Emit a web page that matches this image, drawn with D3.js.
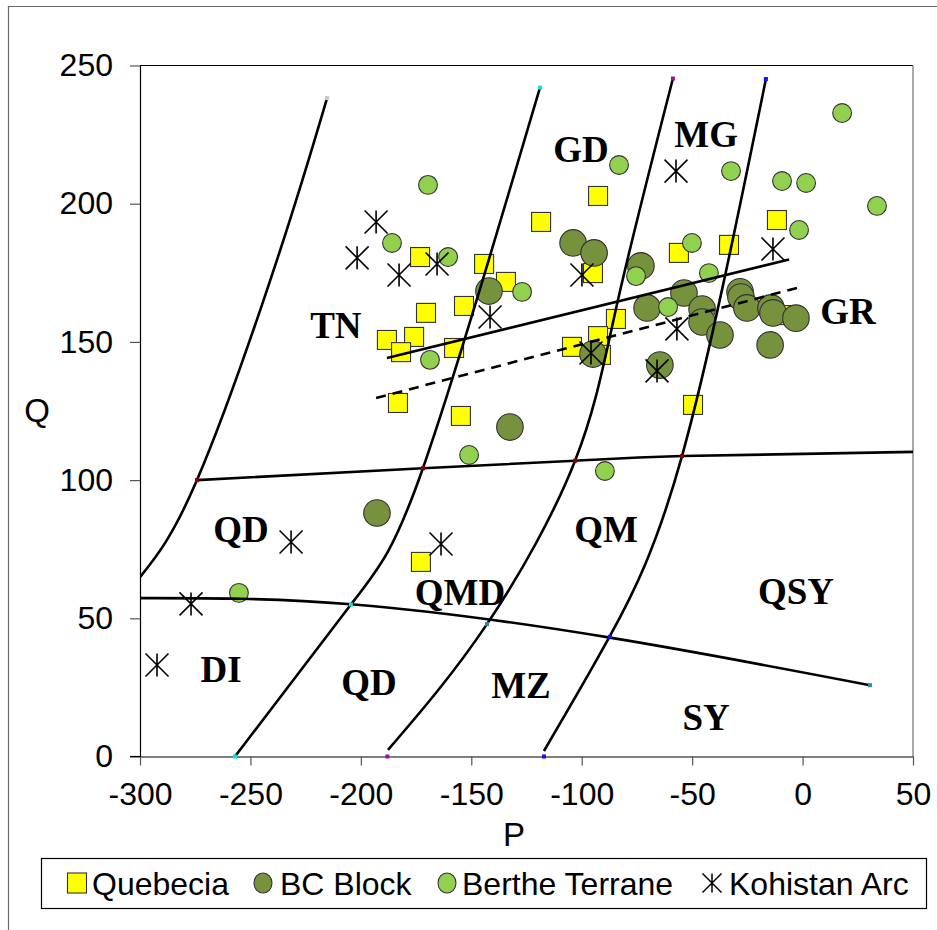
<!DOCTYPE html>
<html>
<head>
<meta charset="utf-8">
<script src="https://cdn.jsdelivr.net/npm/d3@7"></script>
<style>
  body { margin: 0; background: #fff; }
  svg { display: block; }
</style>
</head>
<body>
<div id="chart"></div>
<script>
// sample points [P, Q]
const quebecia = [
  [-173.2, 180.7], [-144.2, 178.2], [-134.3, 171.7], [-153.3, 163.0], [-170.5, 160.5],
  [-175.9, 151.8], [-188.2, 150.7], [-157.8, 147.8], [-181.8, 146.3], [-183.2, 127.9],
  [-154.7, 123.2], [-172.8, 70.4], [-92.6, 202.8], [-118.4, 193.4], [-94.9, 174.9],
  [-56.0, 182.2], [-84.5, 158.3], [-92.6, 152.1], [-104.4, 148.2], [-91.3, 145.3],
  [-49.6, 127.2], [-33.3, 185.1], [-11.6, 194.1], [-8.9, 159.7]
];
const bcBlock = [
  [-142.0, 168.4], [-103.9, 185.8], [-94.4, 182.2], [-73.2, 177.5], [-53.7, 167.7],
  [-70.4, 162.3], [-45.5, 161.9], [-45.5, 157.2], [-37.4, 152.5], [-28.3, 168.1],
  [-27.9, 166.2], [-25.2, 162.3], [-14.3, 162.3], [-13.4, 160.5], [-3.0, 158.6],
  [-14.7, 148.9], [-94.9, 145.6], [-64.6, 141.6], [-132.5, 119.2], [-192.7, 88.1]
];
const bertheTerrane = [
  [-169.6, 206.8], [-185.9, 185.8], [-160.5, 180.7], [-127.0, 168.1], [-168.7, 143.5],
  [-151.0, 109.1], [-255.2, 59.2], [-83.1, 214.0], [-50.1, 185.8], [-75.4, 173.8],
  [-42.4, 174.9], [-60.9, 162.6], [-32.4, 211.8], [-9.3, 208.2], [1.6, 207.5],
  [17.9, 232.8], [33.7, 199.2], [-1.6, 190.5], [-89.5, 103.3]
];
const kohistanArc = [
  [-193.1, 193.4], [-201.7, 180.4], [-182.7, 174.2], [-165.5, 178.2], [-141.5, 159.0],
  [-57.3, 211.8], [-13.4, 183.6], [-99.9, 174.2], [-56.9, 154.7], [-95.8, 146.0],
  [-65.9, 139.5], [-231.6, 77.6], [-163.7, 76.9], [-276.9, 55.2], [-292.3, 33.1]
];

// field boundaries of the P-Q diagram
const boundaryA = [[-300, 64.9], [-274.2, 100], [-238, 179.6], [-215.3, 238.2]];
const boundaryB = [[-257, 0], [-204.5, 55], [-171.9, 104.3], [-118.9, 242]];
const boundaryC = [[-187.7, 2.4], [-142.9, 47.9], [-103, 107], [-83.6, 165.1], [-58.7, 245.3]];
const boundaryD = [[-117.1, 2], [-87.2, 43.6], [-54.6, 108.7], [-16.6, 245.1]];
const boundaryH1 = [[-274.2, 100], [-171.9, 104.3], [-103, 107], [-54.6, 108.7], [50, 110.2]];
const boundaryH2 = [[-300, 57.3], [-204.5, 55.1], [-87.2, 43.0], [30.5, 25.8]];
// trend lines
const trendSolid = [[-188.2, 144.2], [-6.1, 179.8]];
const trendDashed = [[-193.1, 129.7], [-2.5, 169.5]];

// small node markers of the boundary series
const nodeMarks = [
  [-215.3, 238.2, "#c8c8c8"],
  [-257, 0, "#00e5ee"], [-204.5, 55, "#00e5ee"], [-118.9, 242, "#00e5ee"],
  [-188, 0, "#a0109a"], [-142.9, 47.9, "#2a8a9a"], [-58.7, 245.3, "#a0109a"],
  [-117.1, 0, "#1010ff"], [-87.2, 43.3, "#1010ff"], [-16.6, 245.1, "#1010ff"],
  [-274.2, 100, "#8b0000"], [-171.9, 104.3, "#8b0000"], [-103, 107, "#8b0000"], [-54.6, 108.7, "#8b0000"],
  [30.5, 25.8, "#2a8a9a"]
];

const fieldLabels = [
  ["TN", -211.3, 151.4], ["GD", -100.3, 215.1], ["MG", -43.7, 220.5], ["GR", 20.6, 156.5],
  ["QD", -254.3, 77.6], ["QMD", -155.1, 54.8], ["QM", -89.0, 77.6], ["QSY", -3.0, 55.2],
  ["DI", -263.3, 27.0], ["QD", -196.3, 22.3], ["MZ", -127.5, 21.2], ["SY", -43.7, 9.6]
];

const xTicks = [-300, -250, -200, -150, -100, -50, 0, 50];
const yTicks = [0, 50, 100, 150, 200, 250];

const seriesNames = ["Quebecia", "BC Block", "Berthe Terrane", "Kohistan Arc"];

const W = 937, H = 930;
const sans = '"Liberation Sans", Arial, sans-serif';
const serif = '"Liberation Serif", "Times New Roman", serif';

const svg = d3.select("#chart").append("svg")
  .attr("width", W).attr("height", H);

svg.append("rect").attr("width", W).attr("height", H).attr("fill", "#fff");

// outer chart frame
svg.append("path")
  .attr("d", `M8.5,${H} V6.5 H${W}`)
  .attr("fill", "none").attr("stroke", "#6b6b6b").attr("stroke-width", 1.2);

const x = d3.scaleLinear().domain([-300, 50]).range([140, 913]);
const y = d3.scaleLinear().domain([0, 250]).range([756.5, 65.5]);

// plot area border (top black, right grey)
svg.append("line").attr("x1", 140).attr("x2", 913).attr("y1", 65.5).attr("y2", 65.5)
  .attr("stroke", "#000").attr("stroke-width", 1.2);
svg.append("line").attr("x1", 913).attr("x2", 913).attr("y1", 65.5).attr("y2", 756.5)
  .attr("stroke", "#8c8c8c").attr("stroke-width", 1.5);

// axes (plain hyphen for negatives)
const fmt = d => String(d);
const xAxis = svg.append("g")
  .attr("transform", "translate(0,756.5)")
  .call(d3.axisBottom(x).tickValues(xTicks).tickFormat(fmt)
    .tickSize(9).tickPadding(17).tickSizeOuter(0));
const yAxis = svg.append("g")
  .attr("transform", "translate(140,0)")
  .call(d3.axisLeft(y).tickValues(yTicks).tickFormat(fmt)
    .tickSize(10).tickPadding(17).tickSizeOuter(0));

[xAxis, yAxis].forEach(g => {
  g.select(".domain").attr("stroke", "#000").attr("stroke-width", 1.2);
  g.selectAll(".tick line").attr("stroke", "#555").attr("stroke-width", 1.2);
  g.selectAll(".tick text")
    .attr("font-family", sans).attr("font-size", 32).attr("fill", "#000");
});
// extend x axis line left to meet the y tick
svg.append("line").attr("x1", 130).attr("x2", 140).attr("y1", 756.5).attr("y2", 756.5)
  .attr("stroke", "#000").attr("stroke-width", 1.2);

// axis titles
svg.append("text").attr("x", 514).attr("y", 846).attr("text-anchor", "middle")
  .attr("font-family", sans).attr("font-size", 33).text("P");
svg.append("text").attr("x", 37).attr("y", 422).attr("text-anchor", "middle")
  .attr("font-family", sans).attr("font-size", 33).text("Q");

// clip for curves
svg.append("defs").append("clipPath").attr("id", "plotclip")
  .append("rect").attr("x", 140).attr("y", 60).attr("width", 773).attr("height", 700);

// sample markers
const pts = svg.append("g");

pts.selectAll(".qb").data(quebecia).enter().append("rect")
  .attr("x", d => x(d[0]) - 9.5).attr("y", d => y(d[1]) - 9.5)
  .attr("width", 19).attr("height", 19)
  .attr("fill", "#ffff00").attr("stroke", "#333").attr("stroke-width", 1.1);

pts.selectAll(".bc").data(bcBlock).enter().append("circle")
  .attr("cx", d => x(d[0])).attr("cy", d => y(d[1])).attr("r", 13.3)
  .attr("fill", "#77923c").attr("stroke", "#333").attr("stroke-width", 1.1);

pts.selectAll(".bt").data(bertheTerrane).enter().append("circle")
  .attr("cx", d => x(d[0])).attr("cy", d => y(d[1])).attr("r", 9.4)
  .attr("fill", "#92d050").attr("stroke", "#333").attr("stroke-width", 1.1);

const star = s => `M0,${-s}V${s}M${-s},${-s}L${s},${s}M${s},${-s}L${-s},${s}`;

pts.selectAll(".ka").data(kohistanArc).enter().append("path")
  .attr("transform", d => `translate(${x(d[0])},${y(d[1])})`)
  .attr("d", star(11.5))
  .attr("fill", "none").attr("stroke", "#000").attr("stroke-width", 1.6);

// boundary curves and trend lines
const curves = svg.append("g").attr("clip-path", "url(#plotclip)");
const smooth = d3.line().x(d => x(d[0])).y(d => y(d[1])).curve(d3.curveNatural);
const straight = d3.line().x(d => x(d[0])).y(d => y(d[1]));

[boundaryA, boundaryB, boundaryC, boundaryD, boundaryH1, boundaryH2].forEach(c => {
  curves.append("path").attr("d", smooth(c))
    .attr("fill", "none").attr("stroke", "#000").attr("stroke-width", 2.6);
});
curves.append("path").attr("d", straight(trendSolid))
  .attr("fill", "none").attr("stroke", "#000").attr("stroke-width", 2.6);
curves.append("path").attr("d", straight(trendDashed))
  .attr("fill", "none").attr("stroke", "#000").attr("stroke-width", 2.6)
  .attr("stroke-dasharray", "10,7");

svg.append("g").selectAll("rect").data(nodeMarks).enter().append("rect")
  .attr("x", d => x(d[0]) - 2).attr("y", d => y(d[1]) - 2)
  .attr("width", 4).attr("height", 4).attr("fill", d => d[2]);

// field names
svg.append("g").selectAll("text").data(fieldLabels).enter().append("text")
  .attr("x", d => x(d[1])).attr("y", d => y(d[2]))
  .attr("text-anchor", "middle")
  .attr("font-family", serif).attr("font-weight", "bold").attr("font-size", 37)
  .text(d => d[0]);

// legend
const lg = svg.append("g");
lg.append("rect").attr("x", 41.5).attr("y", 858.5).attr("width", 885).attr("height", 50)
  .attr("fill", "#fff").attr("stroke", "#000").attr("stroke-width", 1.2);

const legendX = [77, 263, 447, 712];
const legendTextX = [92, 280, 462, 729];
const ly = 883;

lg.append("rect").attr("x", legendX[0] - 9.5).attr("y", ly - 10).attr("width", 19).attr("height", 20)
  .attr("fill", "#ffff00").attr("stroke", "#333").attr("stroke-width", 1.1);
lg.append("ellipse").attr("cx", legendX[1]).attr("cy", ly).attr("rx", 9).attr("ry", 10)
  .attr("fill", "#77923c").attr("stroke", "#333").attr("stroke-width", 1.1);
lg.append("ellipse").attr("cx", legendX[2]).attr("cy", ly).attr("rx", 9).attr("ry", 10)
  .attr("fill", "#92d050").attr("stroke", "#333").attr("stroke-width", 1.1);
lg.append("path").attr("transform", `translate(${legendX[3]},${ly})`).attr("d", star(9.5))
  .attr("fill", "none").attr("stroke", "#000").attr("stroke-width", 1.5);

lg.selectAll("text").data(seriesNames).enter().append("text")
  .attr("x", (d, i) => legendTextX[i]).attr("y", ly + 11.5)
  .attr("font-family", sans).attr("font-size", 32)
  .text(d => d);
</script>
</body>
</html>
